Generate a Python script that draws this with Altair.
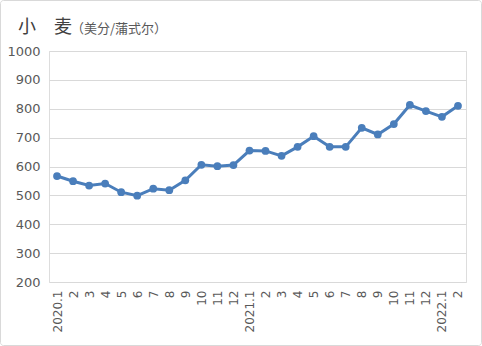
import altair as alt
import pandas as pd

months = ["2020.1", "2", "3", "4", "5", "6", "7", "8", "9", "10", "11", "12",
          "2021.1", "2", "3", "4", "5", "6", "7", "8", "9", "10", "11", "12",
          "2022.1", "2"]
prices = [567, 549, 534, 541, 511, 499, 523, 518, 552, 606, 601, 605,
          655, 654, 637, 668, 705, 668, 668, 734, 711, 747, 813, 792, 772, 810]

keys = [f"{i:02d}" for i in range(len(months))]
df = pd.DataFrame({"k": keys, "label": months, "price": prices})
label_expr = "{" + ",".join(f"'{k}':'{m}'" for k, m in zip(keys, months)) + "}[datum.value]"

blue = "#4a7ebb"
gray = "#595959"

base = alt.Chart(df).encode(
    x=alt.X("k:O", sort=keys, title=None,
            axis=alt.Axis(labelExpr=label_expr, labelAngle=-90, labelFontSize=12,
                          labelColor=gray, labelFont="DejaVu Sans", ticks=False,
                          domain=False, grid=False, labelPadding=8,
                          labelBaseline="middle")),
    y=alt.Y("price:Q", title=None,
            scale=alt.Scale(domain=[200, 1000], nice=False, zero=False),
            axis=alt.Axis(values=list(range(200, 1001, 100)), format="d",
                          labelFontSize=13, labelColor=gray,
                          labelFont="DejaVu Sans", ticks=False, domain=False,
                          labelPadding=9, gridColor="#d9d9d9", gridWidth=1)),
)

line = base.mark_line(color=blue, strokeWidth=3)
pts = base.mark_circle(color=blue, size=60, opacity=1)

tdf = pd.DataFrame({"t": [0]})
title1 = alt.Chart(tdf).mark_text(text="小　麦", font="Noto Sans CJK SC", fontSize=18,
                                  color="#404040", align="left", baseline="middle").encode(
    x=alt.value(-31), y=alt.value(-23))
title2 = alt.Chart(tdf).mark_text(text="（美分/蒲式尔）", font="Noto Sans CJK SC", fontSize=13,
                                  color=gray, align="left", baseline="middle").encode(
    x=alt.value(22), y=alt.value(-22))
border = alt.Chart(tdf).mark_rect(fill=None, stroke="#d9d9d9", strokeWidth=1,
                                  cornerRadius=3).encode(
    x=alt.value(-48.5), x2=alt.value(432.5), y=alt.value(-50.5), y2=alt.value(294.5))

chart = alt.layer(border, line, pts, title1, title2).properties(
    width=417, height=231,
    autosize=alt.AutoSizeParams(type="none"),
    padding={"left": 49, "top": 51, "right": 16, "bottom": 64},
).configure_view(stroke=None).configure(background="white")

chart.save("out.html", embed_options={"renderer": "svg", "actions": False})
